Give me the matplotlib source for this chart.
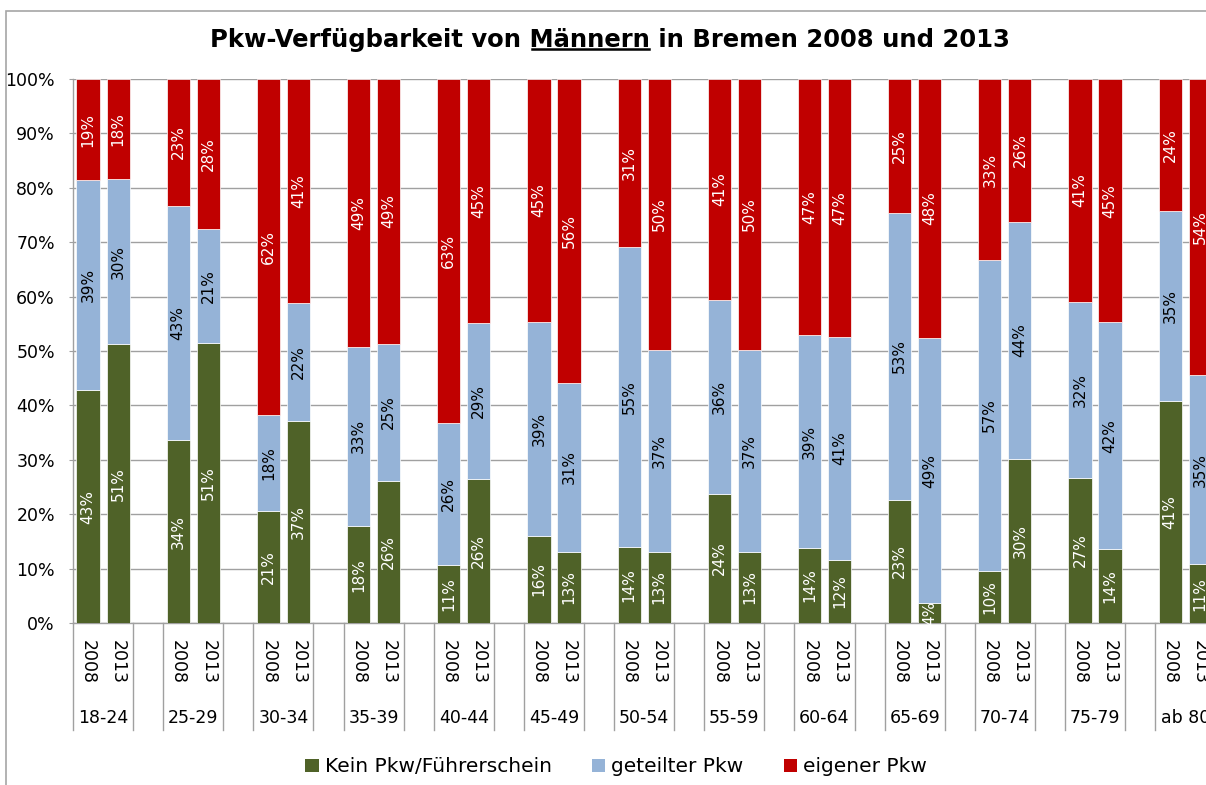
import matplotlib
matplotlib.use("Agg")
import matplotlib.pyplot as plt
import matplotlib.transforms as mtransforms
from matplotlib.patches import Patch, Rectangle
from matplotlib.lines import Line2D

plt.rcParams["font.family"] = "DejaVu Sans"

groups = ["18-24", "25-29", "30-34", "35-39", "40-44", "45-49", "50-54",
          "55-59", "60-64", "65-69", "70-74", "75-79", "ab 80"]
years = ["2008", "2013"]

# shares in %, order per group: 2008, 2013
kein_pkw = [42.8, 51.2, 33.6, 51.4, 20.6, 37.1, 17.8, 26.1, 10.7, 26.4,
            16.0, 13.1, 14.0, 13.1, 23.7, 13.1, 13.8, 11.6, 22.7, 3.6,
            9.6, 30.2, 26.7, 13.6, 40.9, 10.8]
geteilt = [38.6, 30.4, 43.1, 21.0, 17.6, 21.7, 33.0, 25.2, 26.1, 28.8,
           39.4, 31.0, 55.1, 37.1, 35.7, 37.1, 39.1, 41.0, 52.7, 48.8,
           57.1, 43.6, 32.3, 41.7, 34.9, 34.8]
eigener = [18.6, 18.4, 23.3, 27.6, 61.8, 41.2, 49.2, 48.7, 63.2, 44.8,
           44.6, 55.9, 30.9, 49.8, 40.6, 49.8, 47.1, 47.4, 24.6, 47.6,
           33.3, 26.2, 41.0, 44.7, 24.2, 54.4]

series = [
    ("Kein Pkw/Führerschein", kein_pkw, "#4F6228", "white"),
    ("geteilter Pkw", geteilt, "#95B3D7", "black"),
    ("eigener Pkw", eigener, "#C00000", "white"),
]

W, H = 1206, 785
fig = plt.figure(figsize=(W / 100, H / 100), dpi=100)

# axes: left edge at 73px, 0% at y=623, 100% at y=79, slot pitch ~30px (cut on the right)
pitch = 30.06
nslots = 3 * len(groups) - 1
ax = fig.add_axes([73 / W, (H - 623) / H, nslots * pitch / W, 544 / H])

xpos = []
for g in range(len(groups)):
    for y in range(2):
        xpos.append(3 * g + y)

bottom = [0.0] * len(xpos)
for name, vals, col, tcol in series:
    ax.bar(xpos, vals, width=0.77, bottom=bottom, color=col,
           edgecolor="white", linewidth=0.5, zorder=3)
    for x, v, b in zip(xpos, vals, bottom):
        ax.text(x, b + v / 2, f"{v:.0f}%", rotation=90, ha="center", va="center",
                fontsize=11, color=tcol, zorder=4)
    bottom = [b + v for b, v in zip(bottom, vals)]

ax.set_xlim(-0.5, nslots - 0.5)
ax.set_ylim(0, 100)
ax.set_yticks(range(0, 101, 10))
ax.set_yticklabels([f"{t}%" for t in range(0, 101, 10)], fontsize=12.5)
ax.set_xticks([])
ax.tick_params(axis="y", length=3, color="#A0A0A0", pad=10)
ax.grid(axis="y", color="#A0A0A0", linewidth=1, zorder=0)
for s in ["top", "right"]:
    ax.spines[s].set_visible(False)
for s in ["left", "bottom"]:
    ax.spines[s].set_color("#A0A0A0")
    ax.spines[s].set_linewidth(1)

# two-level category axis
trans = mtransforms.blended_transform_factory(ax.transData, ax.transAxes)
y_year = (623 - 662) / 544
y_group = (623 - 718) / 544
y_low = (623 - 730) / 544
for x, yr in zip(xpos, years * len(groups)):
    ax.text(x, y_year, yr, rotation=-90, ha="center", va="center",
            fontsize=12.5, transform=trans, clip_on=False)
for g, name in enumerate(groups):
    ax.text(3 * g + 0.5, y_group, name, ha="center", va="center",
            fontsize=12.5, transform=trans, clip_on=False)
    for xb in (3 * g - 0.5, 3 * g + 1.5):
        ax.add_line(Line2D([xb, xb], [0, y_low], transform=trans, color="#A0A0A0",
                           linewidth=1, clip_on=False))

# title with underlined word
tsize = 17.5
parts = ["Pkw-Verfügbarkeit von ", "Männern", " in Bremen 2008 und 2013"]
title = fig.text(610 / W, 1 - 40 / H, "".join(parts), ha="center", va="center",
                 fontsize=tsize, fontweight="bold")
fig.canvas.draw()
r = fig.canvas.get_renderer()
bb = title.get_window_extent(r)
tmp = fig.text(0, 0, parts[0], fontsize=tsize, fontweight="bold")
w0 = tmp.get_window_extent(r).width
tmp.set_text(parts[1])
w1 = tmp.get_window_extent(r).width
tmp.remove()
x0 = (bb.x0 + w0 + 2) / W
x1 = (bb.x0 + w0 + w1 - 1) / W
yl = (bb.y0 + 3) / H
fig.add_artist(Line2D([x0, x1], [yl, yl], color="black", linewidth=1.8))

# legend
handles = [Patch(facecolor=c, edgecolor="none", label=n) for n, _, c, _ in series]
fig.legend(handles=handles, loc="center", bbox_to_anchor=(616 / W, 1 - 767 / H),
           ncol=3, frameon=False, fontsize=14.5, handlelength=0.65, handleheight=0.65,
           handletextpad=0.3, columnspacing=2.0)

# outer chart border (cut on right and bottom)
fig.add_artist(Rectangle((6 / W, -0.1), 1.1, 1.1 - 11 / H, transform=fig.transFigure,
                         fill=False, edgecolor="#A6A6A6", linewidth=1.2))

fig.savefig("out.png", dpi=100)
